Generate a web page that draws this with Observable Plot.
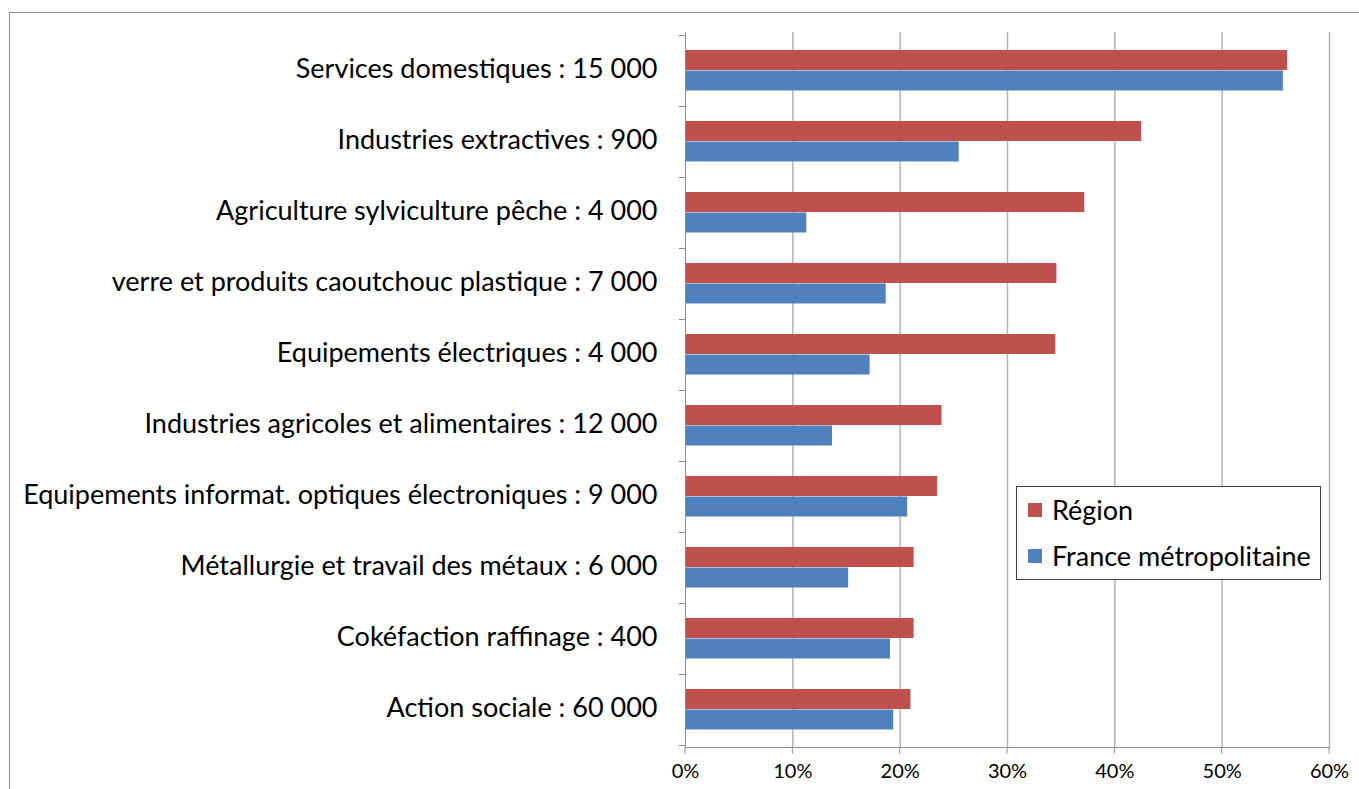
<!DOCTYPE html>
<html>
<head>
<meta charset="utf-8">
<script src="https://cdn.jsdelivr.net/npm/d3@7"></script>
<script src="https://cdn.jsdelivr.net/npm/@observablehq/plot@0.6"></script>
<style>
  html, body { margin: 0; padding: 0; background: #fff; overflow: hidden; }
  body { width: 1359px; height: 789px; position: relative; font-family: Lato, "Open Sans", sans-serif; }
  #frame { position: absolute; left: 9px; top: 12px; width: 1400px; height: 820px; border: 1px solid #8c8c8c; box-sizing: border-box; }
  #chart { position: absolute; left: 0; top: 0; }
  #legend { position: absolute; left: 1016px; top: 486px; width: 305px; height: 94px; border: 1px solid #404040; background: #fff; box-sizing: border-box; font-size: 27px; color: #000; }
  #legend .item { position: absolute; left: 11px; display: flex; align-items: center; white-space: nowrap; line-height: 32px; }
  #legend .sw { width: 14px; height: 14px; margin-right: 10px; }
</style>
</head>
<body>
<div id="frame"></div>
<div id="chart"></div>
<div id="legend"></div>
<script>
const categories = [
  "Services domestiques : 15 000",
  "Industries extractives : 900",
  "Agriculture sylviculture pêche : 4 000",
  "verre et produits caoutchouc plastique : 7 000",
  "Equipements électriques : 4 000",
  "Industries agricoles et alimentaires : 12 000",
  "Equipements informat. optiques électroniques : 9 000",
  "Métallurgie et travail des métaux : 6 000",
  "Cokéfaction raffinage : 400",
  "Action sociale : 60 000"
];
const series = ["Région", "France métropolitaine"];
const regionValues = [0.561, 0.425, 0.372, 0.346, 0.345, 0.239, 0.235, 0.213, 0.213, 0.210];
const franceValues = [0.557, 0.255, 0.113, 0.187, 0.172, 0.137, 0.207, 0.152, 0.191, 0.194];
const xTicks = [0, 0.1, 0.2, 0.3, 0.4, 0.5, 0.6];
const colors = ["#C0504D", "#4F81BD"];

const regionData = categories.map((c, i) => ({category: c, value: regionValues[i]}));
const franceData = categories.map((c, i) => ({category: c, value: franceValues[i]}));

function axisTicks(index, scales, values, dims) {
  const x = scales.x, y = scales.y;
  const bw = y.bandwidth();
  const g = d3.create("svg:g").attr("stroke", "#8c8c8c").attr("stroke-width", 1);
  const x0 = x(0);
  const bounds = categories.map(c => y(c)).concat([y(categories[categories.length - 1]) + bw]);
  for (const b of bounds) {
    g.append("line").attr("x1", x0 - 6).attr("x2", x0).attr("y1", Math.round(b) + 0.5).attr("y2", Math.round(b) + 0.5);
  }
  const yb = Math.round(dims.height - dims.marginBottom) + 0.5;
  for (const t of xTicks) {
    g.append("line").attr("x1", x(t)).attr("x2", x(t)).attr("y1", yb).attr("y2", yb + 6);
  }
  return g.node();
}

const chart = Plot.plot({
  width: 1359,
  height: 789,
  marginLeft: 685,
  marginRight: 30,
  marginTop: 32,
  marginBottom: 42,
  style: {background: "transparent", fontFamily: "Lato, 'Open Sans', sans-serif", color: "#000"},
  x: {domain: [0, 0.6], axis: null},
  y: {domain: categories, padding: 0, axis: null},
  marks: [
    Plot.ruleX(xTicks.slice(1), {stroke: "#b4b4b4", strokeWidth: 1.5}),
    Plot.barX(regionData, {x: "value", y: "category", fill: colors[0], insetTop: 15, insetBottom: 36}),
    Plot.barX(franceData, {x: "value", y: "category", fill: colors[1], insetTop: 35.5, insetBottom: 15.5}),
    Plot.ruleX([0], {stroke: "#8c8c8c", strokeWidth: 1}),
    Plot.frame({anchor: "bottom", stroke: "#8c8c8c"}),
    axisTicks,
    Plot.text(categories, {x: 0, y: d => d, text: d => d, textAnchor: "end", dx: -28, dy: -2, fontSize: 27, fill: "#000"}),
    Plot.text(xTicks, {x: d => d, frameAnchor: "bottom", dy: 30, text: d => d3.format(".0%")(d), fontSize: 20, fill: "#000"})
  ]
});
document.getElementById("chart").appendChild(chart);

const legend = document.getElementById("legend");
series.forEach((s, i) => {
  const item = document.createElement("div");
  item.className = "item";
  item.style.top = (i === 0 ? 7 : 53) + "px";
  const sw = document.createElement("div");
  sw.className = "sw";
  sw.style.background = colors[i];
  const label = document.createElement("span");
  label.textContent = s;
  item.appendChild(sw);
  item.appendChild(label);
  legend.appendChild(item);
});
</script>
</body>
</html>
